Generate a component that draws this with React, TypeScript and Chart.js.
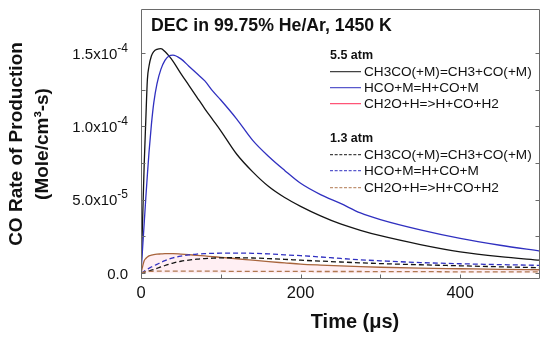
import React, { useEffect, useRef } from "react";
import { Chart, registerables } from "chart.js";

Chart.register(...registerables);

const FONT = '"Liberation Sans", Arial, Helvetica, sans-serif';

// time in microseconds
const times = [0, 2, 4, 6, 8, 10, 13, 16, 20, 25, 30, 35, 40, 50, 60, 70, 80, 90, 100, 120, 140, 160, 180, 200, 225, 250, 275, 300, 350, 400, 450, 500];

// values in units of 1e-5 mole/cm3-s
const UNIT = 1e-5;
const ch3co55 = [0, 3.6, 7.4, 10.4, 13.2, 14.1, 14.8, 15.1, 15.25, 15.3, 15.1, 14.8, 14.45, 13.6, 12.8, 12.0, 11.2, 10.45, 9.7, 8.1, 6.9, 5.9, 5.15, 4.55, 3.9, 3.35, 2.92, 2.55, 1.95, 1.45, 1.12, 0.88];
const hco55 = [0, 1.7, 3.4, 5.1, 6.7, 8.2, 10.1, 11.6, 12.9, 13.9, 14.5, 14.8, 14.86, 14.6, 14.1, 13.6, 13.1, 12.4, 11.8, 10.5, 9.05, 7.95, 7.0, 6.12, 5.35, 4.75, 4.1, 3.65, 2.95, 2.37, 1.9, 1.5];
const ch2o55 = [0, 0.45, 0.85, 1.0, 1.1, 1.17, 1.22, 1.26, 1.29, 1.31, 1.33, 1.33, 1.33, 1.3, 1.26, 1.21, 1.17, 1.12, 1.08, 0.98, 0.88, 0.78, 0.7, 0.62, 0.55, 0.49, 0.44, 0.4, 0.34, 0.3, 0.26, 0.23];
const ch3co13 = [0, 0.03, 0.06, 0.1, 0.13, 0.16, 0.2, 0.25, 0.33, 0.42, 0.52, 0.61, 0.69, 0.81, 0.89, 0.95, 0.99, 1.02, 1.04, 1.05, 1.03, 0.99, 0.94, 0.88, 0.82, 0.76, 0.7, 0.65, 0.57, 0.5, 0.43, 0.37];
const hco13 = [0, 0.06, 0.13, 0.2, 0.27, 0.33, 0.42, 0.5, 0.6, 0.73, 0.85, 0.96, 1.04, 1.16, 1.24, 1.3, 1.33, 1.35, 1.36, 1.37, 1.35, 1.31, 1.25, 1.19, 1.1, 1.0, 0.91, 0.84, 0.72, 0.64, 0.58, 0.53];
const ch2o13 = [0, 0.04, 0.08, 0.1, 0.11, 0.12, 0.12, 0.13, 0.13, 0.13, 0.13, 0.13, 0.13, 0.13, 0.13, 0.13, 0.13, 0.13, 0.13, 0.12, 0.12, 0.12, 0.12, 0.12, 0.11, 0.11, 0.11, 0.1, 0.1, 0.09, 0.09, 0.08];

const reactionNames = ["CH3CO(+M)=CH3+CO(+M)", "HCO+M=H+CO+M", "CH2O+H=>H+CO+H2"];
const groupNames = ["5.5 atm", "1.3 atm"];

const xTicks = [0, 200, 400];
const xMinorTicks = [100, 300];
const xTickLabels = ["0", "200", "400"];
const yTicks = [0, 5e-5, 1e-4, 1.5e-4];
const yMinorTicks = [2.5e-5, 7.5e-5, 1.25e-4];
const yTickMantissas = ["0.0", "5.0x10", "1.0x10", "1.5x10"];
const yTickExponents = ["", "-5", "-4", "-4"];

const X_MIN = 0, X_MAX = 500, Y_MIN = -4e-6, Y_MAX = 1.8e-4;

const titleText = "DEC in 99.75% He/Ar, 1450 K";
const xTitle = "Time (\u03BCs)";
const yTitle = ["CO Rate of Production", "(Mole/cm\u00B3-s)"];

const BLACK = "#141414";
const BLUE = "#3030c0";
const RED = "#ff2a55";
const RED_PLOT = "#a8643c";
const BROWN = "#b07850";
const AXIS = "#6a6a6a";
const TEXT = "#111111";

const toPoints = (arr: number[]) => arr.map((v, i) => ({ x: times[i], y: v * UNIT }));

const boxTicksPlugin = {
  id: "boxTicks",
  afterDraw(chart: any) {
    const ctx = chart.ctx;
    const { left, right, top, bottom } = chart.chartArea;
    const x = chart.scales.x, y = chart.scales.y;
    ctx.save();
    ctx.strokeStyle = AXIS;
    ctx.lineWidth = 1;
    const l = Math.round(left) + 0.5, r = Math.round(right) - 0.5;
    const t = Math.round(top) + 0.5, b = Math.round(bottom) - 0.5;
    ctx.beginPath();
    ctx.rect(l, t, r - l, b - t);
    [...yTicks, ...yMinorTicks].forEach((v) => {
      const py = Math.round(y.getPixelForValue(v)) + 0.5;
      ctx.moveTo(l, py); ctx.lineTo(l + 4, py);
      ctx.moveTo(r, py); ctx.lineTo(r - 4, py);
    });
    [...xTicks, ...xMinorTicks].forEach((v) => {
      const px = Math.round(x.getPixelForValue(v)) + 0.5;
      ctx.moveTo(px, b); ctx.lineTo(px, b - 4);
    });
    ctx.stroke();

    // y tick labels with superscript exponents
    ctx.fillStyle = TEXT;
    ctx.textBaseline = "alphabetic";
    ctx.textAlign = "left";
    const baseFont = `15px ${FONT}`;
    const expFont = `12px ${FONT}`;
    yTicks.forEach((v, i) => {
      const py = y.getPixelForValue(v);
      const mant = yTickMantissas[i];
      const exp = yTickExponents[i];
      ctx.font = baseFont;
      const mw = ctx.measureText(mant).width;
      ctx.font = expFont;
      const ew = exp ? ctx.measureText(exp).width : 0;
      const xEnd = left - 13;
      const x0 = xEnd - mw - ew;
      const baseY = py + 5.5;
      ctx.font = baseFont;
      ctx.fillText(mant, x0, baseY);
      if (exp) {
        ctx.font = expFont;
        ctx.fillText(exp, x0 + mw, baseY - 7);
      }
    });
    ctx.restore();
  },
};

function LegendRow({ top, color, dashed, label }: { top: number; color: string; dashed: boolean; label: string }) {
  return (
    <div style={{ position: "absolute", left: 330, top, transform: "translateY(-50%)", display: "flex", alignItems: "center", lineHeight: "1" }}>
      <div style={{ width: 31, height: 0, borderTop: `1.3px ${dashed ? "dashed" : "solid"} ${color}`, marginRight: 3 }} />
      <span style={{ fontFamily: FONT, fontSize: 13.6, color: TEXT, whiteSpace: "nowrap" }}>{label}</span>
    </div>
  );
}

export default function App() {
  const ref = useRef<HTMLCanvasElement>(null);

  useEffect(() => {
    if (!ref.current) return;
    const mk = (label: string, arr: number[], color: string, dashed: boolean, extra: any = {}) => ({
      label,
      data: toPoints(arr),
      borderColor: color,
      borderWidth: 1.3,
      borderDash: dashed ? [5, 3] : [],
      pointRadius: 0,
      cubicInterpolationMode: "monotone",
      fill: false,
      ...extra,
    });
    const chart = new Chart(ref.current, {
      type: "line",
      data: {
        datasets: [
          mk(reactionNames[2] + " " + groupNames[1], ch2o13, BROWN, true),
          mk(reactionNames[0] + " " + groupNames[1], ch3co13, BLACK, true),
          mk(reactionNames[1] + " " + groupNames[1], hco13, BLUE, true),
          mk(reactionNames[2] + " " + groupNames[0], ch2o55, RED_PLOT, false, { fill: "origin", backgroundColor: "rgba(255,120,160,0.12)" }),
          mk(reactionNames[1] + " " + groupNames[0], hco55, BLUE, false),
          mk(reactionNames[0] + " " + groupNames[0], ch3co55, BLACK, false),
        ] as any,
      },
      options: {
        animation: false,
        responsive: false,
        devicePixelRatio: 1,
        layout: { padding: { left: 0, right: 10, top: 9, bottom: 0 } },
        plugins: { legend: { display: false }, tooltip: { enabled: false } },
        scales: {
          x: {
            type: "linear",
            min: X_MIN,
            max: X_MAX,
            grid: { display: false, drawTicks: false },
            border: { display: false },
            afterBuildTicks: (s: any) => { s.ticks = xTicks.map((v) => ({ value: v })); },
            afterFit: (s: any) => { s.height = 66; s.paddingLeft = 0; s.paddingRight = 0; },
            ticks: {
              padding: 5,
              color: TEXT,
              font: { family: FONT, size: 16.5 },
              maxRotation: 0,
              callback: (_v: any, i: number) => xTickLabels[i],
            },
          },
          y: {
            type: "linear",
            min: Y_MIN,
            max: Y_MAX,
            grid: { display: false, drawTicks: false },
            border: { display: false },
            afterBuildTicks: (s: any) => { s.ticks = yTicks.map((v) => ({ value: v })); },
            afterFit: (s: any) => { s.width = 141; s.paddingTop = 0; s.paddingBottom = 0; },
            ticks: {
              display: false,
              padding: 13,
              font: { family: FONT, size: 15 },
            },
            title: {
              display: true,
              text: yTitle,
              color: TEXT,
              font: { family: FONT, size: 19, weight: "bold", lineHeight: 1.35 },
              padding: { top: 4, bottom: 0 },
            },
          },
        },
      } as any,
      plugins: [boxTicksPlugin],
    });
    return () => chart.destroy();
  }, []);

  return (
    <div style={{ position: "fixed", left: 0, top: 0, width: 550, height: 345, background: "#fff" }}>
      <canvas ref={ref} width={550} height={345} style={{ display: "block", width: 550, height: 345 }} />
      <div style={{ position: "absolute", left: 151, top: 26, transform: "translateY(-50%)", fontFamily: FONT, fontWeight: "bold", fontSize: 17.7, lineHeight: "1", color: TEXT, whiteSpace: "nowrap" }}>{titleText}</div>
      <div style={{ position: "absolute", left: 355, top: 321, transform: "translate(-50%,-50%)", fontFamily: FONT, fontWeight: "bold", fontSize: 20, lineHeight: "1", color: TEXT, whiteSpace: "nowrap" }}>{xTitle}</div>
      <div style={{ position: "absolute", left: 330, top: 55, transform: "translateY(-50%)", fontFamily: FONT, fontWeight: "bold", fontSize: 12.5, lineHeight: "1", color: TEXT }}>{groupNames[0]}</div>
      <LegendRow top={71.7} color={BLACK} dashed={false} label={reactionNames[0]} />
      <LegendRow top={87.5} color={BLUE} dashed={false} label={reactionNames[1]} />
      <LegendRow top={104} color={RED} dashed={false} label={reactionNames[2]} />
      <div style={{ position: "absolute", left: 330, top: 138.3, transform: "translateY(-50%)", fontFamily: FONT, fontWeight: "bold", fontSize: 12.5, lineHeight: "1", color: TEXT }}>{groupNames[1]}</div>
      <LegendRow top={154.5} color={BLACK} dashed={true} label={reactionNames[0]} />
      <LegendRow top={171} color={BLUE} dashed={true} label={reactionNames[1]} />
      <LegendRow top={188} color={BROWN} dashed={true} label={reactionNames[2]} />
    </div>
  );
}
